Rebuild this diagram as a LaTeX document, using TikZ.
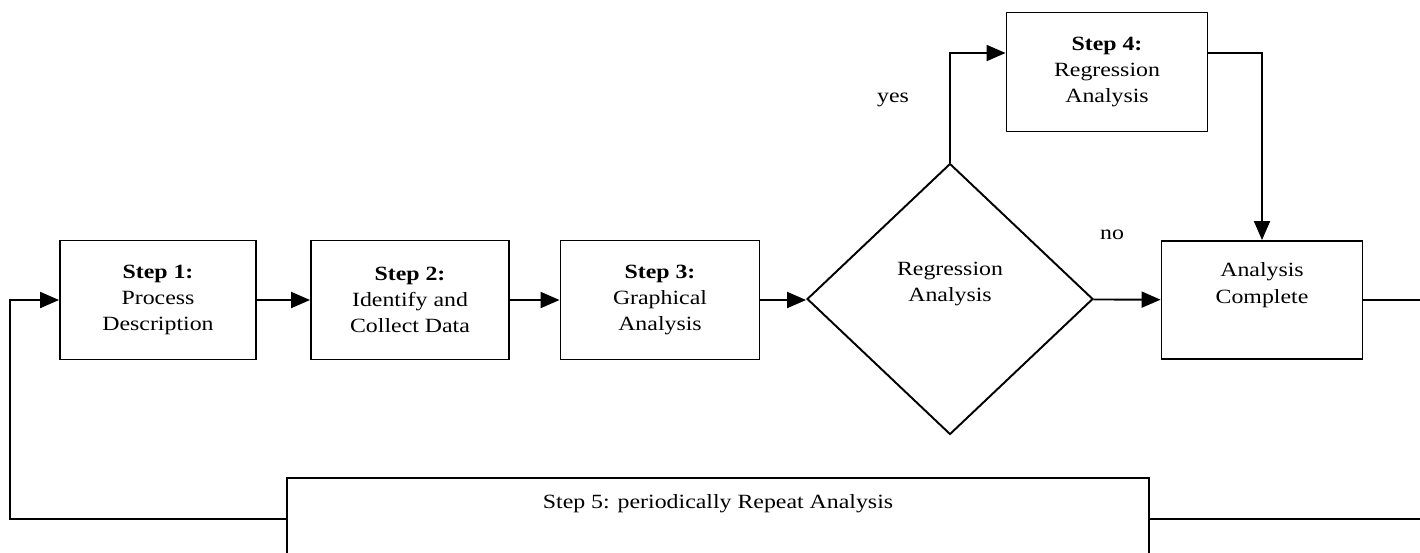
\documentclass[tikz,border=0pt]{standalone}
\usepackage{fontspec}
\setmainfont{Liberation Serif}[FakeStretch=1.18]
\usetikzlibrary{arrows.meta, shapes.geometric, positioning}

\begin{document}
\begin{tikzpicture}[x=0.02cm, y=-0.02cm,
  font=\fontsize{11.5}{15}\selectfont,
  stepbox/.style={draw, line width=1.1pt, align=center, minimum width=3.96cm, minimum height=2.38cm, inner sep=0pt},
  flow/.style={line width=1.1pt, -{Triangle[length=0.38cm, width=0.32cm]}},
  wire/.style={line width=1.1pt}]
\useasboundingbox (0,0) rectangle (1420,552);

% Steps 1 to 3
\node[stepbox, minimum width=3.92cm] (step1) at (158,300) {\textbf{Step 1:}\\Process\\Description};
\node[stepbox] (step2) at (410,300) {\textbf{Step 2:}\\Identify and\\Collect Data};
\node[stepbox, minimum width=3.98cm] (step3) at (660,300) {\textbf{Step 3:}\\Graphical\\Analysis};

% Decision
\node[draw, diamond, line width=1.1pt, minimum width=5.72cm, minimum height=5.42cm, inner sep=0pt, align=center] (decide) at (950,299) {Regression\\Analysis\\\strut};
\node (yes) at (893,100) {yes};
\node (no) at (1112,235) {no};

% Step 4 and end
\node[stepbox, minimum width=4.02cm] (step4) at (1107,72) {\textbf{Step 4:}\\Regression\\Analysis};
\node[stepbox, minimum width=4.02cm, minimum height=2.36cm] (done) at (1262,300) {Analysis\\Complete\\\strut};

% Step 5
\node[stepbox, minimum width=17.24cm, minimum height=1.64cm] (step5) at (718,519) {Step 5: periodically Repeat Analysis\\\strut};

% Connectors
\coordinate (yesturn) at (952,53);
\coordinate (loopleft) at (10,519);
\coordinate (rightout) at (1420,300);
\coordinate (rightloop) at (1420,519);

\draw[flow] (step1) -- (step2);
\draw[flow] (step2) -- (step3);
\draw[flow] (step3) -- (step3 -| decide.west);
\draw[flow] (decide) -- (done);
\draw[flow] (decide.north) |- (step4.west |- yesturn);
\draw[flow] (step4.east |- yesturn) -| (done.north);
\draw[wire] (done.east) -- (rightout);
\draw[wire] (step5.east) -- (rightloop);
\draw[flow] (step5.west) -- (loopleft) |- (step1.west);
\end{tikzpicture}
\end{document}
